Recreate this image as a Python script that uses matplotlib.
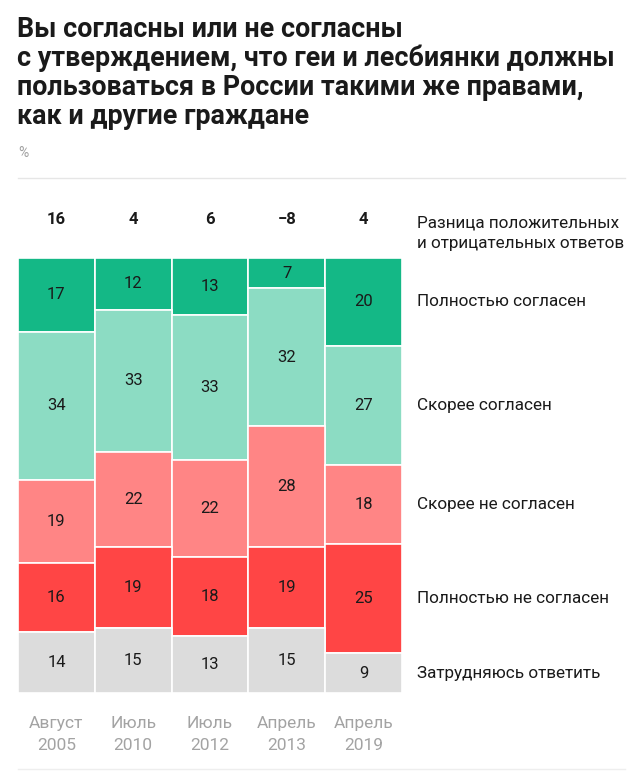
import numpy as np
import matplotlib
matplotlib.use("Agg")
import matplotlib.pyplot as plt
import matplotlib.transforms as mtransforms

plt.rcParams['font.family'] = ['Roboto', 'DejaVu Sans']

title = ("Вы согласны или не согласны\n"
         "с утверждением, что геи и лесбиянки должны\n"
         "пользоваться в России такими же правами,\n"
         "как и другие граждане")

periods = ["Август\n2005", "Июль\n2010", "Июль\n2012", "Апрель\n2013", "Апрель\n2019"]
categories = ["Полностью согласен", "Скорее согласен", "Скорее не согласен",
              "Полностью не согласен", "Затрудняюсь ответить"]
fully_agree = [17, 12, 13, 7, 20]
rather_agree = [34, 33, 33, 32, 27]
rather_disagree = [19, 22, 22, 28, 18]
fully_disagree = [16, 19, 18, 19, 25]
hard_to_say = [14, 15, 13, 15, 9]
difference = ["16", "4", "6", "\u22128", "4"]

colors = ["#14b886", "#8cdcc3", "#ff8585", "#ff4545", "#dcdcdc"]

W, H = 640, 771
fig = plt.figure(figsize=(W / 100, H / 100), dpi=100)


def px(x, y):
    return x / W, 1 - y / H


# title and unit
fig.text(*px(17, 16), title, fontsize=19.4, fontweight='bold', color='#1a1a1a',
         va='top', ha='left', linespacing=1.08)
fig.text(*px(18, 153), "%", fontsize=10, color='#a0a0a0', va='center')
fig.add_artist(plt.Line2D([18 / W, 625 / W], [1 - 178 / H] * 2, color='#e6e6e6', lw=1))
fig.add_artist(plt.Line2D([18 / W, 625 / W], [1 - 769 / H] * 2, color='#eeeeee', lw=1))

# bars
ax = fig.add_axes([18 / W, 1 - 693 / H, 384 / W, 435 / H])
series = np.array([fully_agree, rather_agree, rather_disagree, fully_disagree, hard_to_say], dtype=float)
totals = series.sum(axis=0)
shares = series / totals
x = np.arange(len(periods))
bottom = np.zeros(len(periods))
for i, cat in enumerate(categories):
    ax.bar(x, shares[i], bottom=bottom, width=1.0, color=colors[i],
           edgecolor='white', linewidth=1.2, align='center')
    for j in range(len(periods)):
        ax.text(x[j], bottom[j] + shares[i][j] / 2, f"{int(series[i][j])}",
                ha='center', va='center', fontsize=12, color='#1a1a1a')
    # category label next to the last column
    ax.text(len(periods) - 0.5 + 0.2, bottom[-1] + shares[i][-1] / 2, cat,
            ha='left', va='center', fontsize=12.3, color='#1a1a1a', clip_on=False)
    bottom += shares[i]

ax.set_xlim(-0.5, len(periods) - 0.5)
ax.set_ylim(1, 0)
ax.axis('off')

# difference row
trans = mtransforms.blended_transform_factory(ax.transData, ax.transAxes)
for j, d in enumerate(difference):
    ax.text(x[j], 1 + 39 / 435, d, transform=trans, ha='center', va='center',
            fontsize=12, fontweight='bold', color='#1a1a1a')
ax.text(len(periods) - 0.5 + 0.2, 1 + 39 / 435 + 3 / 435, "Разница положительных\nи отрицательных ответов",
        transform=trans, ha='left', va='top', fontsize=12.3, color='#1a1a1a',
        linespacing=1.4, clip_on=False)

# period labels
for j, p in enumerate(periods):
    ax.text(x[j], -23 / 435, p, transform=trans, ha='center', va='top',
            fontsize=12.5, color='#a3a3a3', linespacing=1.55)

fig.savefig("out.png", dpi=100, facecolor='white')
